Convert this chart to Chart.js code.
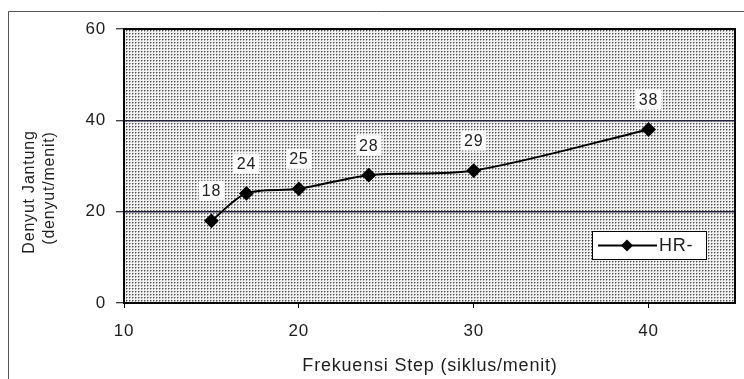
<!DOCTYPE html>
<html>
<head>
<meta charset="utf-8">
<script src="https://cdn.jsdelivr.net/npm/chart.js@4/dist/chart.umd.min.js"></script>
<style>
  html, body { margin: 0; padding: 0; background: #fff; }
  #wrap { width: 744px; height: 379px; }
</style>
</head>
<body>
<div id="wrap"><canvas id="c" width="744" height="379"></canvas></div>
<script>
// Step frequency (siklus/menit) and heart rate increase (denyut/menit)
const stepFreq = [15, 17, 20, 24, 30, 40];
const heartRate = [18, 24, 25, 28, 29, 38];
const xTicks = [10, 20, 30, 40];
const yTicks = [0, 20, 40, 60];
const seriesName = 'HR-';
const xTitle = 'Frekuensi Step (siklus/menit)';
const yTitle = ['Denyut Jantung', '(denyut/menit)'];

const FONT = '"Liberation Sans", Arial, sans-serif';
const TEXT = '#1e1e1e';

// Halftone grey fill for the plot area
function makeDots() {
  const t = document.createElement('canvas');
  t.width = 3; t.height = 3;
  const g = t.getContext('2d');
  g.fillStyle = '#f2f2f2'; g.fillRect(0, 0, 3, 3);
  g.fillStyle = '#a4a4a4'; g.fillRect(1, 0, 1, 1); g.fillRect(0, 1, 1, 1);
  g.fillStyle = '#505050'; g.fillRect(0, 0, 1, 1);
  return t;
}

const framePlugin = {
  id: 'frame',
  beforeDraw(chart) {
    const { ctx, chartArea: a } = chart;
    ctx.letterSpacing = '0.8px';
    ctx.save();
    ctx.fillStyle = ctx.createPattern(makeDots(), 'repeat');
    ctx.fillRect(a.left, a.top, a.right - a.left, a.bottom - a.top);
    // outer chart frame
    ctx.strokeStyle = '#555';
    ctx.lineWidth = 1;
    ctx.beginPath();
    ctx.moveTo(8.5, 379); ctx.lineTo(8.5, 11.5); ctx.lineTo(744, 11.5);
    ctx.stroke();
    ctx.restore();
  },
  beforeDatasetsDraw(chart) {
    const { ctx, chartArea: a } = chart;
    ctx.save();
    ctx.strokeStyle = '#000';
    ctx.lineWidth = 2;
    ctx.strokeRect(a.left, a.top, a.right - a.left - 1, a.bottom - a.top);
    ctx.restore();
  },
  afterDatasetsDraw(chart) {
    const { ctx } = chart;
    const ds = chart.data.datasets[0];
    const meta = chart.getDatasetMeta(0);
    ctx.save();
    ctx.font = '16px ' + FONT;
    ctx.textAlign = 'center';
    ctx.textBaseline = 'middle';
    meta.data.forEach((pt, i) => {
      const label = String(ds.data[i].y);
      const w = ctx.measureText(label).width + 6;
      const cx = pt.x, cy = pt.y - 30;
      ctx.fillStyle = '#fff';
      ctx.fillRect(cx - w / 2, cy - 10, w, 20);
      ctx.fillStyle = TEXT;
      ctx.fillText(label, cx, cy + 1);
    });

    // legend box
    const lx = 592, ly = 231, lw = 115, lh = 29;
    ctx.fillStyle = '#fff';
    ctx.fillRect(lx, ly, lw, lh);
    ctx.strokeStyle = '#000';
    ctx.lineWidth = 1;
    ctx.strokeRect(lx + 0.5, ly + 0.5, lw - 1, lh - 1);
    const my = ly + lh / 2;
    ctx.lineWidth = 2;
    ctx.beginPath();
    ctx.moveTo(598, my); ctx.lineTo(657, my);
    ctx.stroke();
    ctx.fillStyle = '#000';
    ctx.beginPath();
    ctx.moveTo(627, my - 6); ctx.lineTo(633, my); ctx.lineTo(627, my + 6); ctx.lineTo(621, my);
    ctx.closePath(); ctx.fill();
    ctx.fillStyle = TEXT;
    ctx.textAlign = 'left';
    ctx.font = '18px ' + FONT;
    ctx.fillText(ds.label, 659, my + 1);
    ctx.restore();
  },
  afterDraw(chart) {
    const { ctx } = chart;
    ctx.save();
    ctx.font = '16px ' + FONT;
    ctx.fillStyle = TEXT;
    ctx.textAlign = 'center';
    ctx.textBaseline = 'middle';
    const pos = [[30, 192], [50, 188]];
    yTitle.forEach((t, i) => {
      ctx.save();
      ctx.translate(pos[i][0], pos[i][1]);
      ctx.rotate(-Math.PI / 2);
      ctx.fillText(t, 0, 0);
      ctx.restore();
    });
    ctx.restore();
  }
};

new Chart(document.getElementById('c'), {
  type: 'line',
  data: {
    datasets: [{
      label: seriesName,
      data: stepFreq.map((x, i) => ({ x, y: heartRate[i] })),
      borderColor: '#000',
      borderWidth: 2,
      backgroundColor: '#000',
      pointStyle: 'rectRot',
      pointRadius: 6,
      pointBackgroundColor: '#000',
      pointBorderColor: '#000',
      tension: 0.3,
      fill: false
    }]
  },
  options: {
    responsive: false,
    animation: false,
    devicePixelRatio: 1,
    layout: { padding: { top: 29, right: 1, left: 0, bottom: 0 } },
    plugins: { legend: { display: false }, tooltip: { enabled: false } },
    scales: {
      x: {
        type: 'linear',
        min: 10,
        max: 45,
        afterBuildTicks: s => { s.ticks = xTicks.map(v => ({ value: v })); },
        afterFit: s => { s.height = 76; },
        grid: { drawOnChartArea: false, tickLength: 5, tickColor: '#000', tickWidth: 1 },
        border: { display: false },
        ticks: { color: TEXT, font: { family: FONT, size: 17 }, padding: 13, maxRotation: 0 },
        title: { display: true, text: xTitle, color: TEXT, font: { family: FONT, size: 18 }, padding: { top: 0, bottom: 2 } }
      },
      y: {
        type: 'linear',
        min: 0,
        max: 60,
        afterBuildTicks: s => { s.ticks = yTicks.map(v => ({ value: v })); },
        afterFit: s => { s.width = 124; },
        grid: {
          drawOnChartArea: true,
          color: c => (c.tick && (c.tick.value === 20 || c.tick.value === 40)) ? '#22223f' : 'rgba(0,0,0,0)',
          lineWidth: 1.5,
          tickLength: 8,
          tickColor: '#000',
          tickWidth: 1
        },
        border: { display: false },
        ticks: { color: TEXT, font: { family: FONT, size: 17 }, padding: 10 }
      }
    }
  },
  plugins: [framePlugin]
});
</script>
</body>
</html>
